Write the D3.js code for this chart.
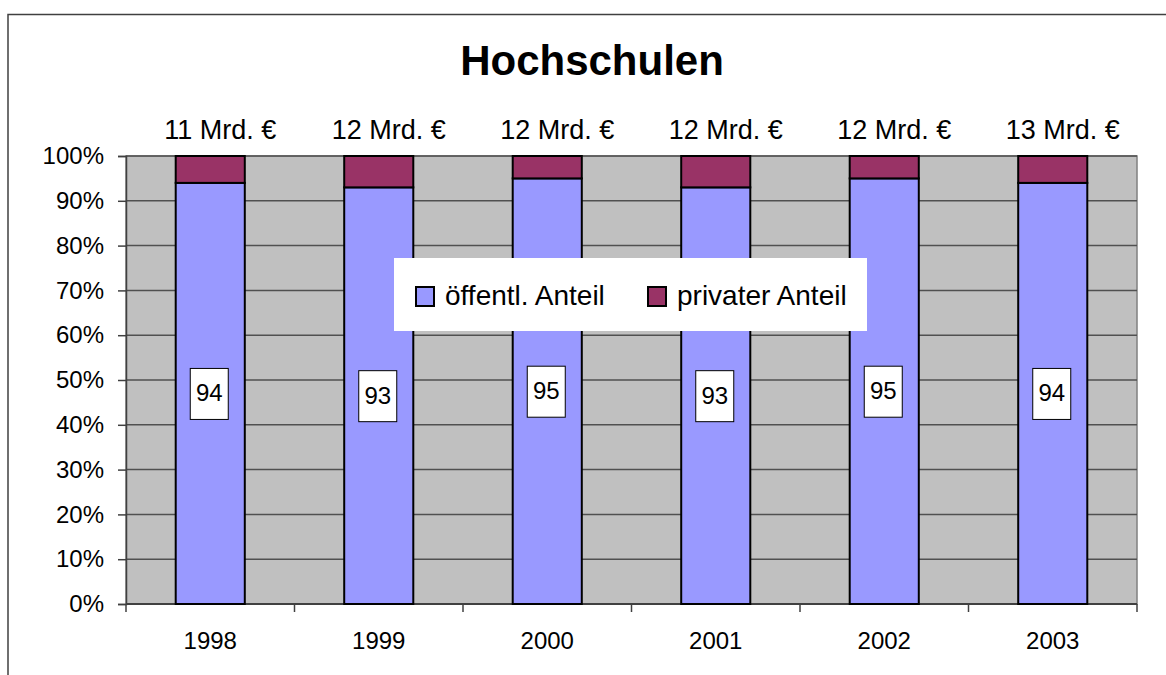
<!DOCTYPE html>
<html>
<head>
<meta charset="utf-8">
<script src="https://cdn.jsdelivr.net/npm/d3@7"></script>
<style>
  body { margin: 0; background: #fff; }
  svg { display: block; font-family: "Liberation Sans", Arial, sans-serif; }
</style>
</head>
<body>
<div id="chart"></div>
<script>
// data
const years = ["1998", "1999", "2000", "2001", "2002", "2003"]
const publicShare = [94, 93, 95, 93, 95, 94]
const privateShare = [6, 7, 5, 7, 5, 6]
const totals = ["11 Mrd. €", "12 Mrd. €", "12 Mrd. €", "12 Mrd. €", "12 Mrd. €", "13 Mrd. €"]
const yTicks = [0, 10, 20, 30, 40, 50, 60, 70, 80, 90, 100]
const seriesNames = ["öffentl. Anteil", "privater Anteil"]
const colors = ["#9999ff", "#993366"]

const width = 1166, height = 675
const plot = { left: 126, right: 1137, top: 156, bottom: 604 }

const svg = d3.select("#chart").append("svg")
    .attr("width", width)
    .attr("height", height)

// outer chart border (runs off right and bottom)
svg.append("rect")
    .attr("x", 8).attr("y", 14.5)
    .attr("width", 1200).attr("height", 700)
    .attr("fill", "#fff")
    .attr("stroke", "#404040")
    .attr("stroke-width", 1.5)

const x = d3.scaleBand()
    .domain(years)
    .range([plot.left, plot.right])
    .padding(0)

const y = d3.scaleLinear()
    .domain([0, 100])
    .range([plot.bottom, plot.top])

const barW = x.bandwidth() * 0.41

// plot area
svg.append("rect")
    .attr("x", plot.left).attr("y", plot.top)
    .attr("width", plot.right - plot.left)
    .attr("height", plot.bottom - plot.top)
    .attr("fill", "#c0c0c0")
    .attr("stroke", "#808080")
    .attr("stroke-width", 1.5)

// gridlines
svg.append("g")
    .selectAll("line")
    .data(yTicks.filter(d => d > 0))
    .join("line")
    .attr("x1", plot.left).attr("x2", plot.right)
    .attr("y1", d => y(d)).attr("y2", d => y(d))
    .attr("stroke", "#505050")
    .attr("stroke-width", 1.5)

// y axis
const yAxis = svg.append("g")
    .attr("transform", `translate(${plot.left},0)`)
    .call(d3.axisLeft(y).tickValues(yTicks).tickSize(8).tickPadding(14).tickFormat(d => d + "%"))
yAxis.select(".domain").attr("stroke", "#404040").attr("stroke-width", 1.5)
yAxis.selectAll(".tick line").attr("stroke", "#404040").attr("stroke-width", 1.5)
yAxis.selectAll("text")
    .attr("font-size", 24)
    .attr("fill", "#000")
    .attr("font-family", "Liberation Sans, Arial, sans-serif")

// x axis: ticks between categories, labels centered
const xAxisG = svg.append("g")
xAxisG.append("line")
    .attr("x1", plot.left).attr("x2", plot.right)
    .attr("y1", plot.bottom).attr("y2", plot.bottom)
    .attr("stroke", "#404040")
    .attr("stroke-width", 2)
xAxisG.selectAll("line.tick")
    .data(years.map(d => x(d)).concat([plot.right]))
    .join("line")
    .attr("class", "tick")
    .attr("x1", d => d).attr("x2", d => d)
    .attr("y1", plot.bottom).attr("y2", plot.bottom + 8)
    .attr("stroke", "#404040")
    .attr("stroke-width", 1.5)
xAxisG.selectAll("text")
    .data(years)
    .join("text")
    .attr("x", d => x(d) + x.bandwidth() / 2)
    .attr("y", 649)
    .attr("text-anchor", "middle")
    .attr("font-size", 24)
    .text(d => d)

// stacked bars
const rows = years.map((yr, i) => ({ year: yr, pub: publicShare[i], priv: privateShare[i] }))
const stack = d3.stack().keys(["pub", "priv"])(rows)

svg.append("g")
    .selectAll("g")
    .data(stack)
    .join("g")
    .attr("fill", (d, i) => colors[i])
    .selectAll("rect")
    .data(d => d)
    .join("rect")
    .attr("x", d => x(d.data.year) + (x.bandwidth() - barW) / 2)
    .attr("y", d => y(d[1]))
    .attr("width", barW)
    .attr("height", d => y(d[0]) - y(d[1]))
    .attr("stroke", "#000")
    .attr("stroke-width", 2)

// data labels in public segment
const labels = svg.append("g")
    .selectAll("g")
    .data(rows)
    .join("g")
    .attr("transform", d => `translate(${x(d.year) + x.bandwidth() / 2 - 1},${y(d.pub / 2)})`)
labels.append("rect")
    .attr("x", -19).attr("y", -25)
    .attr("width", 38).attr("height", 51)
    .attr("fill", "#fff")
    .attr("stroke", "#000")
    .attr("stroke-width", 1)
labels.append("text")
    .attr("text-anchor", "middle")
    .attr("y", 8)
    .attr("font-size", 24)
    .text(d => d.pub)

// totals above bars
svg.append("g")
    .selectAll("text")
    .data(years)
    .join("text")
    .attr("x", (d, i) => x(d) + x.bandwidth() / 2 + 10)
    .attr("y", 139)
    .attr("text-anchor", "middle")
    .attr("font-size", 27)
    .text((d, i) => totals[i])

// title
svg.append("text")
    .attr("x", 592)
    .attr("y", 75)
    .attr("text-anchor", "middle")
    .attr("font-size", 42)
    .attr("font-weight", "bold")
    .text("Hochschulen")

// legend
const legend = svg.append("g").attr("transform", "translate(394,258)")
legend.append("rect")
    .attr("width", 473).attr("height", 73)
    .attr("fill", "#fff")
const legendX = [22, 254]
const items = legend.selectAll("g")
    .data(seriesNames)
    .join("g")
    .attr("transform", (d, i) => `translate(${legendX[i]},0)`)
items.append("rect")
    .attr("x", 0).attr("y", 29)
    .attr("width", 18).attr("height", 19)
    .attr("fill", (d, i) => colors[i])
    .attr("stroke", "#000")
    .attr("stroke-width", 2)
items.append("text")
    .attr("x", 29)
    .attr("y", 47)
    .attr("font-size", 28)
    .text(d => d)
</script>
</body>
</html>
